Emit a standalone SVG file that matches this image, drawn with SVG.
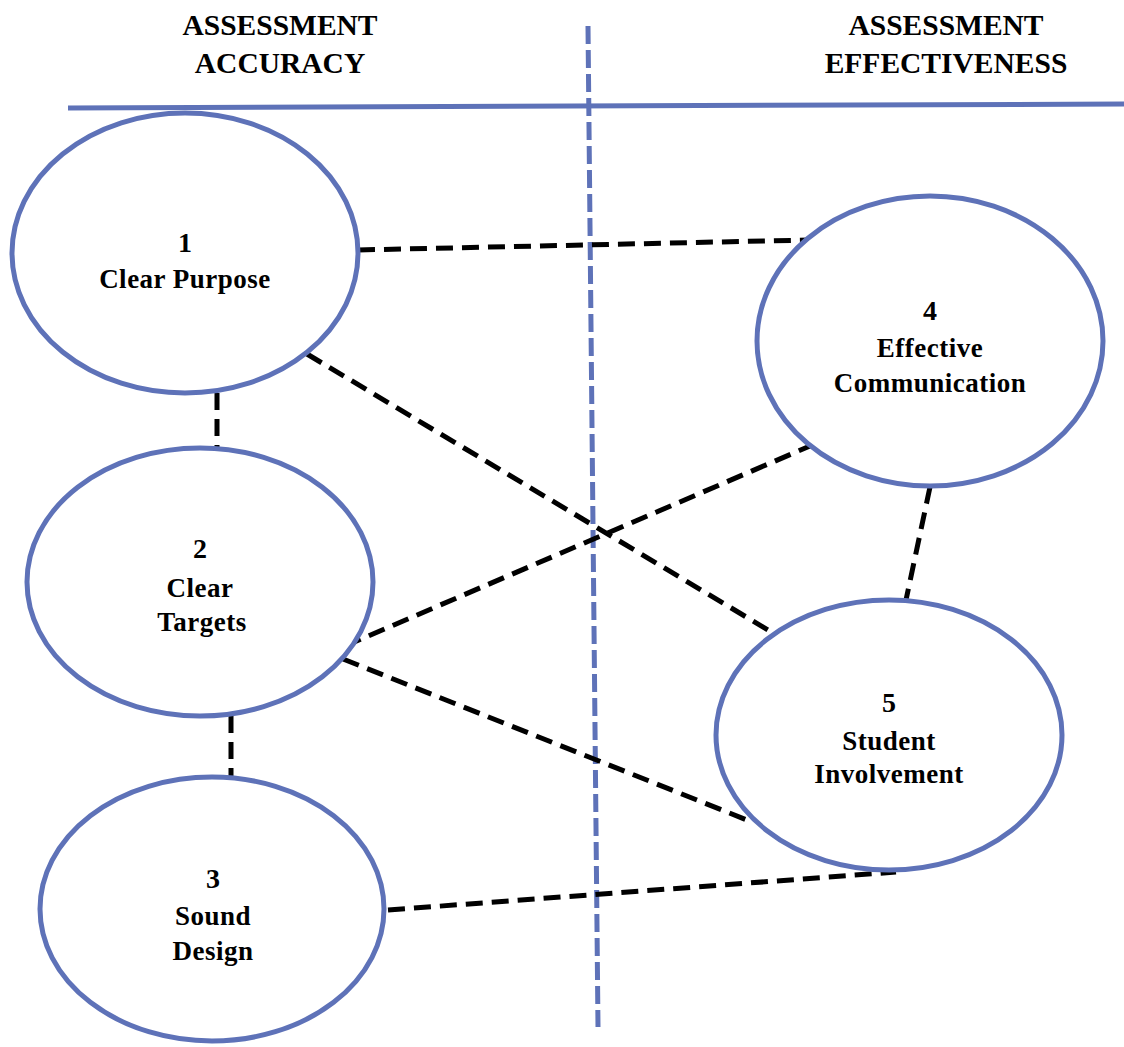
<svg xmlns="http://www.w3.org/2000/svg" width="1124" height="1047" viewBox="0 0 1124 1047">
<style>
.bg{fill:#ffffff}
.guide{stroke:#5E72B8;stroke-width:5;fill:none}
.vdash{stroke:#5E72B8;stroke-width:5;stroke-dasharray:18 6;fill:none}
.node ellipse{fill:#ffffff;stroke:#5E72B8;stroke-width:5}
.conn line{stroke:#000000;stroke-width:5;stroke-dasharray:17 9;fill:none}
text{font-family:"Liberation Serif","Times New Roman",serif;font-weight:bold;fill:#000000;text-anchor:middle}
.hdr{font-size:29.5px}
.lbl{font-size:27px;letter-spacing:0.5px}
.num{font-size:28px}
</style>
<rect class="bg" x="0" y="0" width="1124" height="1047"/>
<g id="headers">
<text class="hdr" x="280" y="35">ASSESSMENT</text>
<text class="hdr" x="280" y="73">ACCURACY</text>
<text class="hdr" x="946" y="35">ASSESSMENT</text>
<text class="hdr" x="946" y="73">EFFECTIVENESS</text>
</g>
<g id="guides">
<line class="guide" x1="68" y1="108" x2="1124" y2="104"/>
<line class="vdash" x1="588" y1="26" x2="598" y2="1027"/>
</g>
<g id="connectors" class="conn">
<line x1="358" y1="250" x2="808" y2="240"/>
<line x1="307" y1="354" x2="773" y2="633"/>
<line x1="345" y1="646" x2="810" y2="446"/>
<line x1="343" y1="659" x2="752" y2="822"/>
<line x1="388" y1="910" x2="896" y2="872"/>
<line x1="217" y1="393" x2="217" y2="448"/>
<line x1="231" y1="716" x2="231" y2="778"/>
<line x1="930" y1="487" x2="906" y2="600"/>
</g>
<g id="node1" class="node">
<ellipse cx="185" cy="253" rx="173" ry="140"/>
<text class="num" x="185" y="252">1</text>
<text class="lbl" x="185" y="288">Clear Purpose</text>
</g>
<g id="node2" class="node">
<ellipse cx="200" cy="582" rx="173" ry="134"/>
<text class="num" x="200" y="558">2</text>
<text class="lbl" x="200" y="597">Clear</text>
<text class="lbl" x="202" y="631">Targets</text>
</g>
<g id="node3" class="node">
<ellipse cx="212" cy="909" rx="172" ry="132"/>
<text class="num" x="213" y="888">3</text>
<text class="lbl" x="213" y="925">Sound</text>
<text class="lbl" x="213" y="960">Design</text>
</g>
<g id="node4" class="node">
<ellipse cx="930" cy="341" rx="173" ry="145"/>
<text class="num" x="930" y="320">4</text>
<text class="lbl" x="930" y="357">Effective</text>
<text class="lbl" x="930" y="392">Communication</text>
</g>
<g id="node5" class="node">
<ellipse cx="889" cy="735" rx="173" ry="135"/>
<text class="num" x="889" y="712">5</text>
<text class="lbl" x="889" y="750">Student</text>
<text class="lbl" x="889" y="783">Involvement</text>
</g>
</svg>
